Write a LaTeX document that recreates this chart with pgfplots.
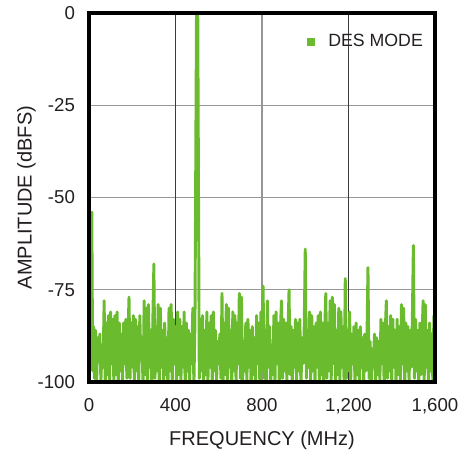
\documentclass[border=0pt]{standalone}
\usepackage{pgfplots}
\pgfplotsset{compat=1.18}
\usepackage{fontspec}
\setmainfont{Liberation Sans}
\definecolor{adigreen}{RGB}{106,187,46}
\definecolor{txt}{RGB}{35,31,32}
\definecolor{gridgray}{RGB}{150,150,150}
\definecolor{griddark}{RGB}{60,60,60}
\begin{document}
\begin{tikzpicture}
\begin{axis}[
  scale only axis,
  width=259.5pt, height=276.75pt,
  xmin=0, xmax=1600, ymin=-100, ymax=0,
  xtick={0,400,800,1200,1600},
  xticklabels={0,400,800,{1,200},{1,600}},
  ytick={-100,-75,-50,-25,0},
  yticklabels={-100,-75,-50,-25,0},
  extra x ticks={400,1200},
  extra x tick labels={},
  extra x tick style={grid=major, major grid style={griddark, line width=0.8pt}},
  major tick length=0pt,
  grid=major,
  major grid style={gridgray, line width=1.1pt},
  axis line style={draw=none},
  tick label style={font=\fontsize{14}{16}\selectfont, text=txt},
  xticklabel style={yshift=-9pt},
  yticklabel style={xshift=-7pt},
  xlabel={FREQUENCY (MHz)},
  ylabel={AMPLITUDE (dBFS)},
  label style={font=\fontsize{15}{18}\selectfont, text=txt},
  xlabel style={yshift=-6pt},
  ylabel style={yshift=-5.5pt},
  legend style={at={(rel axis cs:0.985,0.96)}, anchor=north east, draw=none, fill=none,
    font=\fontsize{13.3}{15}\selectfont, text=txt},
  legend image code/.code={\fill[adigreen, draw=none] (0cm,-0.105cm) rectangle (0.21cm,0.105cm); \path[draw=none] (0,0) -- (0.5cm,0);},
  clip=true,
]
\addplot[adigreen, line width=2.2pt, line join=round, line cap=round] coordinates {
(0,-70) (13,-54) (17,-97) (21,-85) (25,-99) (30,-86) (35,-101) (40,-88) (45,-94)
(50,-87) (55,-100) (60,-91) (65,-96) (70,-78) (75,-102) (80,-84) (85,-98) (90,-82) (95,-100)
(100,-81) (105,-95) (110,-83) (115,-101) (120,-82) (125,-98) (130,-81) (135,-103) (140,-84) (145,-97)
(150,-87) (155,-100) (160,-84) (165,-95) (170,-83) (175,-99) (180,-88) (185,-77) (190,-99) (195,-84)
(200,-96) (205,-82) (210,-101) (215,-83) (220,-97) (225,-85) (230,-100) (235,-82) (240,-94) (245,-88)
(250,-102) (255,-78) (260,-98) (265,-80) (270,-100) (275,-79) (280,-96) (285,-86) (290,-103) (295,-84)
(300,-68) (305,-99) (310,-85) (315,-97) (320,-79) (325,-101) (330,-80) (335,-96) (340,-86) (345,-100)
(350,-84) (355,-98) (360,-88) (365,-102) (370,-80) (375,-97) (380,-79) (385,-100) (390,-83) (395,-95)
(400,-85) (405,-101) (410,-81) (415,-98) (420,-83) (425,-100) (430,-85) (435,-96) (440,-81) (445,-103)
(450,-84) (455,-97) (460,-86) (465,-100) (470,-87) (475,-95) (480,-80) (485,-101) (490,-84) (497,-1)
(500,0) (503,-1) (510,-99) (515,-83) (520,-97) (525,-82) (530,-101) (535,-86) (540,-98) (545,-81)
(550,-100) (555,-84) (560,-96) (565,-82) (570,-102) (575,-81) (580,-97) (585,-86) (590,-100) (595,-89)
(600,-95) (605,-87) (610,-99) (615,-76) (620,-101) (625,-84) (630,-98) (635,-79) (640,-100) (645,-80)
(650,-96) (655,-86) (660,-102) (665,-81) (670,-97) (675,-82) (680,-100) (685,-84) (690,-95) (695,-76)
(700,-99) (705,-77) (710,-101) (715,-89) (720,-97) (725,-84) (730,-100) (735,-83) (740,-96) (745,-86)
(750,-103) (755,-85) (760,-98) (765,-88) (770,-100) (775,-82) (780,-95) (785,-84) (790,-101) (795,-81)
(800,-97) (805,-74) (810,-99) (815,-86) (820,-100) (825,-78) (830,-96) (835,-85) (840,-102) (845,-90)
(850,-98) (855,-82) (860,-100) (865,-81) (870,-95) (875,-84) (880,-101) (885,-86) (890,-78) (895,-99)
(900,-83) (905,-97) (910,-84) (915,-100) (920,-87) (925,-75) (930,-98) (935,-85) (940,-101) (945,-86)
(950,-96) (955,-83) (960,-100) (965,-84) (970,-97) (975,-83) (980,-102) (985,-88) (990,-95) (995,-86)
(1000,-64) (1005,-99) (1010,-86) (1015,-96) (1020,-81) (1025,-100) (1030,-82) (1035,-97) (1040,-85) (1045,-101)
(1050,-84) (1055,-96) (1060,-82) (1065,-100) (1070,-81) (1075,-98) (1080,-84) (1085,-102) (1090,-86) (1095,-76)
(1100,-99) (1105,-84) (1110,-97) (1115,-78) (1120,-100) (1125,-77) (1130,-95) (1135,-79) (1140,-101) (1145,-86)
(1150,-98) (1155,-80) (1160,-100) (1165,-81) (1170,-96) (1175,-85) (1180,-102) (1185,-72) (1190,-99) (1195,-86)
(1200,-97) (1205,-81) (1210,-100) (1215,-87) (1220,-95) (1225,-85) (1230,-101) (1235,-84) (1240,-98) (1245,-86)
(1250,-100) (1255,-85) (1260,-96) (1265,-88) (1270,-102) (1275,-87) (1280,-97) (1285,-90) (1290,-69) (1295,-99)
(1300,-89) (1305,-100) (1310,-91) (1315,-96) (1320,-87) (1325,-101) (1330,-88) (1335,-98) (1340,-89) (1345,-100)
(1350,-83) (1355,-95) (1360,-84) (1365,-102) (1370,-86) (1375,-78) (1380,-99) (1385,-85) (1390,-97) (1395,-82)
(1400,-100) (1405,-83) (1410,-96) (1415,-86) (1420,-101) (1425,-83) (1430,-98) (1435,-85) (1440,-100) (1445,-79)
(1450,-95) (1455,-80) (1460,-102) (1465,-84) (1470,-97) (1475,-85) (1480,-100) (1485,-86) (1490,-96) (1495,-84)
(1500,-63) (1505,-99) (1510,-83) (1515,-97) (1520,-86) (1525,-101) (1530,-84) (1535,-98) (1540,-88) (1545,-78)
(1550,-100) (1555,-79) (1560,-96) (1565,-86) (1570,-102) (1575,-84) (1580,-97) (1585,-87) (1590,-100) (1595,-82)
(1600,-95)
};
\addlegendentry{DES MODE}
\coordinate (ll) at (rel axis cs:0,0);
\coordinate (ur) at (rel axis cs:1,1);
\end{axis}
\draw[draw=black, line width=2.8pt] (ll) rectangle (ur);
\path ([xshift=-66.75pt,yshift=-57pt]ll) rectangle ([xshift=26.25pt,yshift=9.75pt]ur);
\end{tikzpicture}
\end{document}
